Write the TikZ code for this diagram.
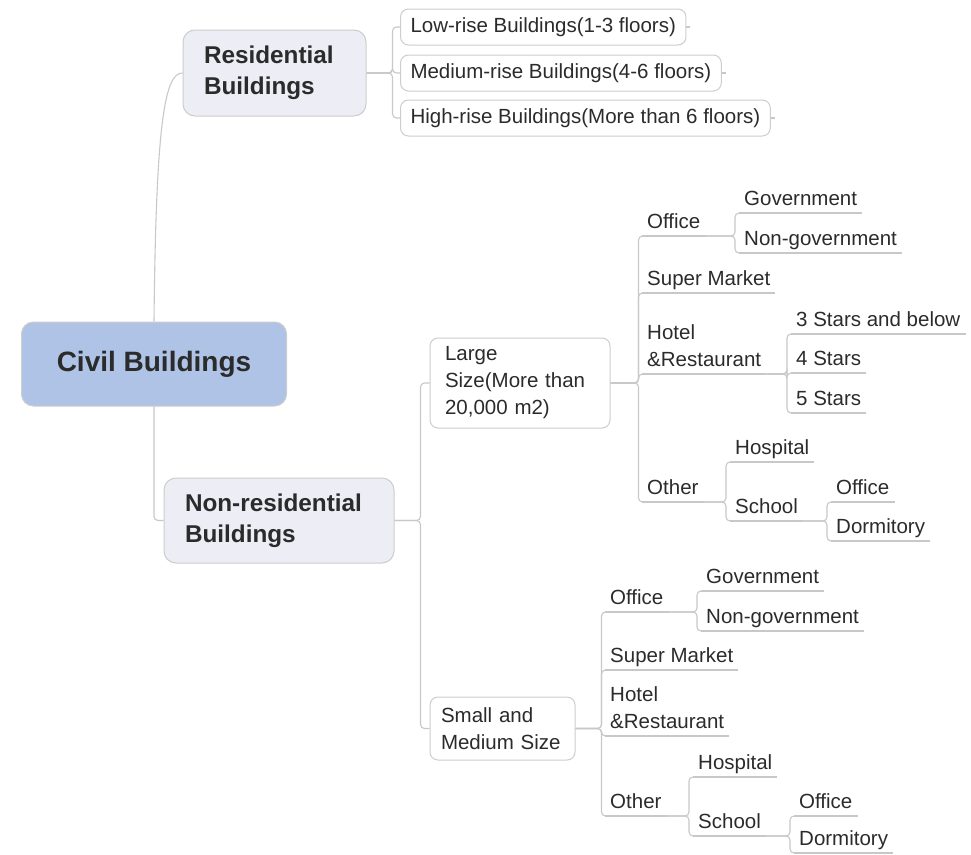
\documentclass[tikz,border=0pt]{standalone}
\usepackage{fontspec}
\setmainfont{Liberation Sans}

\definecolor{civblue}{HTML}{AEC3E5}
\definecolor{topicfill}{HTML}{ECEDF5}
\definecolor{edgegray}{HTML}{C8C8C8}
\definecolor{boxgray}{HTML}{CDCDCD}
\definecolor{inktext}{HTML}{2B2B2B}

\begin{document}
\begin{tikzpicture}[x=1pt,y=-1pt,
    link/.style={draw=edgegray,line width=1.1pt,rounded corners=4pt},
    central/.style={draw=boxgray,fill=civblue,rounded corners=12pt,line width=1pt,
        minimum width=265pt,minimum height=84pt,
        font=\fontsize{28}{34}\selectfont\bfseries,text=inktext},
    main/.style={draw=boxgray,fill=topicfill,rounded corners=12pt,line width=1pt,
        align=left,inner xsep=21pt,font=\fontsize{24.3}{31}\selectfont\bfseries,text=inktext},
    sub/.style={draw=boxgray,fill=white,rounded corners=8pt,line width=1pt,
        align=left,font=\fontsize{20.5}{27}\selectfont,text=inktext},
    leaf/.style={anchor=south west,align=left,inner xsep=5pt,inner ysep=2pt,text depth=5pt,
        font=\fontsize{20.5}{27}\selectfont,text=inktext,
        append after command={(\tikzlastnode.south west) edge[link] (\tikzlastnode.south east)}}]

  \useasboundingbox (0,0) rectangle (971,854);

  % topics
  \node[central] (civ) at (154,364) {Civil Buildings};
  \node[main,text width=141pt,minimum height=86pt] (res) at (274.5,73) {Residential\\Buildings};
  \node[main,text width=188pt,minimum height=85pt] (nres) at (279,520.5) {Non-residential\\Buildings};

  % residential
  \node[sub,anchor=west,inner xsep=10pt,minimum height=36pt] (low) at (400,27) {Low-rise Buildings(1-3 floors)};
  \node[sub,anchor=west,inner xsep=10pt,minimum height=36pt] (med) at (400,73) {Medium-rise Buildings(4-6 floors)};
  \node[sub,anchor=west,inner xsep=10pt,minimum height=36pt] (high) at (400,118) {High-rise Buildings(More than 6 floors)};

  % non-residential
  \node[sub,inner xsep=15pt,text width=150pt,minimum height=90pt] (large) at (520,383) {Large\\Size(More than\\20,000 m2)};
  \node[sub,inner xsep=11pt,text width=123pt,minimum height=63pt] (small) at (502.5,728.5) {Small and\\Medium Size};

  % large size
  \node[leaf] (loff) at (642,236) {Office};
  \node[leaf] (lsup) at (642,293) {Super Market};
  \node[leaf] (lhot) at (642,374) {Hotel\\\&Restaurant};
  \node[leaf] (loth) at (642,502) {Other};
  \node[leaf] (lgov) at (739,213) {Government};
  \node[leaf] (lngov) at (739,253) {Non-government};
  \node[leaf] (lthree) at (791,334) {3 Stars and below};
  \node[leaf] (lfour) at (791,373) {4 Stars};
  \node[leaf] (lfive) at (791,413) {5 Stars};
  \node[leaf] (lhosp) at (730,462) {Hospital};
  \node[leaf] (lschool) at (730,521) {School};
  \node[leaf] (lsoff) at (831,502) {Office};
  \node[leaf] (ldorm) at (831,541) {Dormitory};

  % small and medium size
  \node[leaf] (soff) at (605,612) {Office};
  \node[leaf] (ssup) at (605,670) {Super Market};
  \node[leaf] (shot) at (605,736) {Hotel\\\&Restaurant};
  \node[leaf] (soth) at (605,816) {Other};
  \node[leaf] (sgov) at (701,591) {Government};
  \node[leaf] (sngov) at (701,631) {Non-government};
  \node[leaf] (shosp) at (693,777) {Hospital};
  \node[leaf] (sschool) at (693,836) {School};
  \node[leaf] (ssoff) at (794,816) {Office};
  \node[leaf] (sdorm) at (794,853) {Dormitory};

  % connectors
  \draw[link] (civ.north) .. controls (156,120) and (165,73) .. (res.west);
  \draw[link] (civ.south) |- (nres.west);

  \foreach \c in {low,med,high} {
    \draw[link] (res.east) -- ++(26,0) |- (\c.west);
    \draw[link] (\c.east) -- ++(4,0);
  }
  \foreach \c in {large,small}
    \draw[link] (nres.east) -- ++(26,0) |- (\c.west);

  \foreach \c in {loff,lsup,lhot,loth}
    \draw[link] (large.east) -- ++(28,0) |- (\c.south west);
  \foreach \c in {lgov,lngov}
    \draw[link] (loff.south east) -| ([xshift=-4pt]\c.south west) -- (\c.south west);
  \foreach \c in {lthree,lfour,lfive}
    \draw[link] (lhot.south east) -| ([xshift=-4pt]\c.south west) -- (\c.south west);
  \foreach \c in {lhosp,lschool}
    \draw[link] (loth.south east) -| ([xshift=-4pt]\c.south west) -- (\c.south west);
  \foreach \c in {lsoff,ldorm}
    \draw[link] (lschool.south east) -| ([xshift=-4pt]\c.south west) -- (\c.south west);

  \foreach \c in {soff,ssup,shot,soth}
    \draw[link] (small.east) -- ++(26,0) |- (\c.south west);
  \foreach \c in {sgov,sngov}
    \draw[link] (soff.south east) -| ([xshift=-4pt]\c.south west) -- (\c.south west);
  \foreach \c in {shosp,sschool}
    \draw[link] (soth.south east) -| ([xshift=-4pt]\c.south west) -- (\c.south west);
  \foreach \c in {ssoff,sdorm}
    \draw[link] (sschool.south east) -| ([xshift=-4pt]\c.south west) -- (\c.south west);

\end{tikzpicture}
\end{document}
